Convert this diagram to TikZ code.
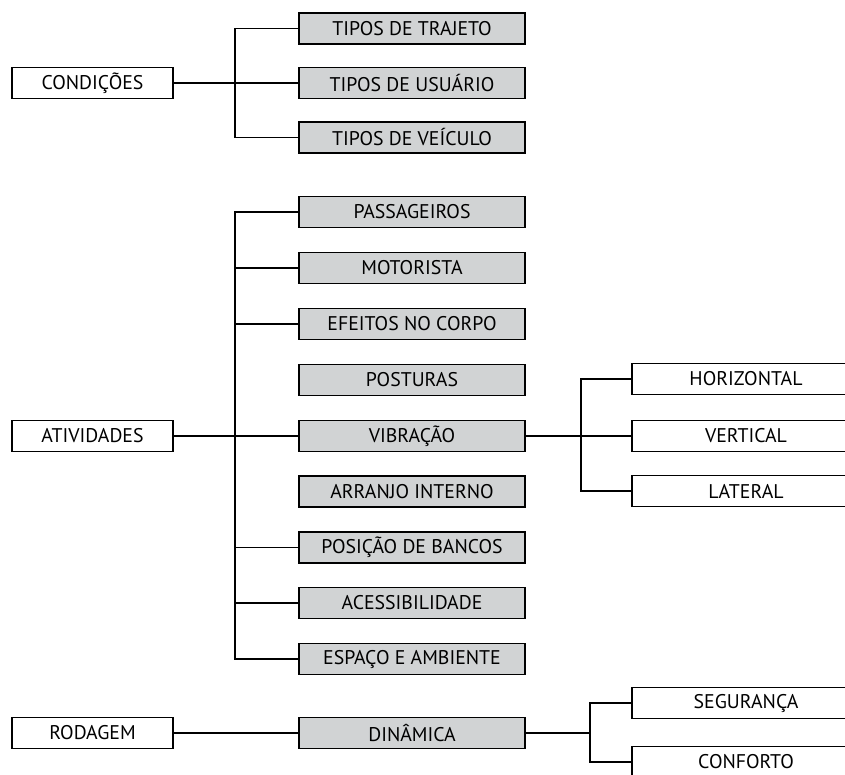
\documentclass[tikz,border=0pt]{standalone}
\usepackage{fontspec}
\setmainfont{PT Sans}
\definecolor{boxgray}{RGB}{209,211,212}
\begin{document}
\begin{tikzpicture}[x=1pt,y=-1pt,
            root/.style={draw, line width=1.2pt, minimum width=161pt, minimum height=31pt, inner sep=0pt, font=\fontsize{19.8}{22}\selectfont},
            item/.style={root, fill=boxgray, minimum width=226pt},
            leaf/.style={root, minimum width=228pt},
            link/.style={line width=1.2pt}
            ]
            \clip (0,0) rectangle (845,774);

            \node[root] (cond) at (92.5,83) {CONDIÇÕES};
            \node[item] (traj) at (412,28.5) {TIPOS DE TRAJETO};
            \node[item] (usu) at (412,83) {TIPOS DE USUÁRIO};
            \node[item] (veic) at (412,137.5) {TIPOS DE VEÍCULO};

            \node[root] (ativ) at (92.5,436) {ATIVIDADES};
            \node[item] (pass) at (412,212) {PASSAGEIROS};
            \node[item] (moto) at (412,268) {MOTORISTA};
            \node[item] (efe) at (412,324) {EFEITOS NO CORPO};
            \node[item] (post) at (412,380) {POSTURAS};
            \node[item] (vib) at (412,436) {VIBRAÇÃO};
            \node[item] (arr) at (412,491.5) {ARRANJO INTERNO};
            \node[item] (posi) at (412,547.5) {POSIÇÃO DE BANCOS};
            \node[item] (aces) at (412,603) {ACESSIBILIDADE};
            \node[item] (esp) at (412,659) {ESPAÇO E AMBIENTE};

            \node[leaf] (horiz) at (746,379) {HORIZONTAL};
            \node[leaf] (vert) at (746,436) {VERTICAL};
            \node[leaf] (lat) at (746,491) {LATERAL};

            \node[root] (rod) at (92.5,733) {RODAGEM};
            \node[item] (din) at (412,733) {DINÂMICA};
            \node[leaf] (seg) at (746,703) {SEGURANÇA};
            \node[leaf] (conf) at (746,762) {CONFORTO};

            \coordinate (cj) at (235,83);
            \coordinate (aj) at (235,436);
            \coordinate (vj) at (581,436);
            \coordinate (dj) at (590,733);

            \draw[link] (cond) -- (usu);
            \draw[link] (traj.west) -| (cj) |- (veic.west);

            \draw[link] (ativ) -- (vib);
            \draw[link] (pass.west) -| (aj) |- (esp.west);
            \foreach \n in {moto,efe,posi,aces}
                \draw[link] (\n.west) -- (\n.west -| aj);

            \draw[link] (vib) -- (vert);
            \draw[link] (horiz.west) -| (vj) |- (lat.west);

            \draw[link] (rod) -- (din);
            \draw[link] (din.east) -- (dj);
            \draw[link] (seg.west) -| (dj) |- (conf.west);

            \end{tikzpicture}
\end{document}
